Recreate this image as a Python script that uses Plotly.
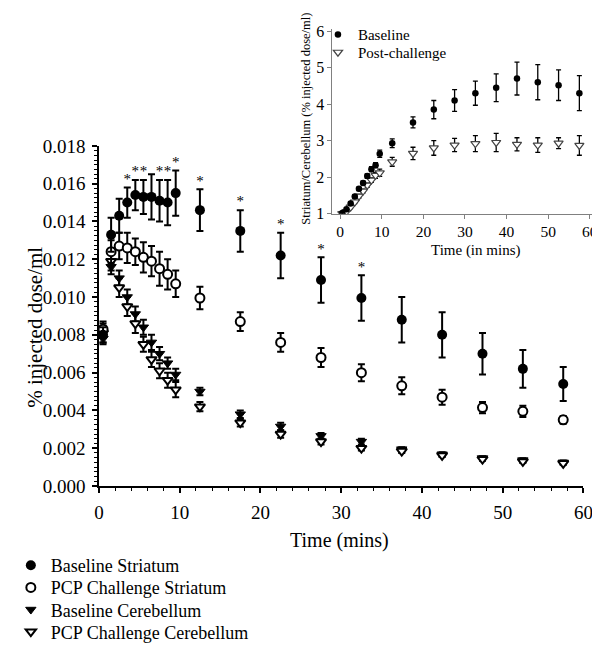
import plotly.graph_objects as go

# ---------------- data ----------------
time = [0.5, 1.5, 2.5, 3.5, 4.5, 5.5, 6.5, 7.5, 8.5, 9.5,
        12.5, 17.5, 22.5, 27.5, 32.5, 37.5, 42.5, 47.5, 52.5, 57.5]

baseline_striatum = [0.0080, 0.0133, 0.0143, 0.0150, 0.0154, 0.0153, 0.0153, 0.0151, 0.0150, 0.0155,
                     0.0146, 0.0135, 0.0122, 0.0109, 0.00995, 0.0088, 0.0080, 0.0070, 0.0062, 0.0054]
baseline_striatum_err = [0.0004, 0.0009, 0.0009, 0.0008, 0.0008, 0.0009, 0.0012, 0.0011, 0.0012, 0.0012,
                         0.0011, 0.0011, 0.0012, 0.0012, 0.0012, 0.0012, 0.0012, 0.0011, 0.0010, 0.0009]

pcp_striatum = [0.0083, 0.0124, 0.0127, 0.0126, 0.0124, 0.0121, 0.0119, 0.0115, 0.0112, 0.0107,
                0.00995, 0.0087, 0.0076, 0.0068, 0.0060, 0.0053, 0.0047, 0.00415, 0.00395, 0.0035]
pcp_striatum_err = [0.0004, 0.0006, 0.0007, 0.0008, 0.0007, 0.0008, 0.0008, 0.0009, 0.0008, 0.0007,
                    0.0006, 0.0005, 0.0005, 0.0005, 0.00045, 0.00045, 0.0004, 0.0003, 0.0003, 0.0002]

baseline_cerebellum = [0.0078, 0.0116, 0.0110, 0.0100, 0.0091, 0.0084, 0.0076, 0.0070, 0.0065, 0.0059,
                       0.0050, 0.0038, 0.00315, 0.00265, 0.00235, 0.00195, 0.00168, 0.00148, 0.00137, 0.00125]
baseline_cerebellum_err = [0.0003, 0.0004, 0.0004, 0.0004, 0.0004, 0.0004, 0.0004, 0.00035, 0.0003, 0.0003,
                           0.0002, 0.0002, 0.0002, 0.00015, 0.00015, 0.0001, 0.0001, 0.0001, 0.0001, 0.0001]

pcp_cerebellum = [0.0081, 0.0119, 0.0105, 0.0095, 0.0086, 0.0075, 0.0067, 0.0061, 0.0056, 0.0051,
                  0.0042, 0.00335, 0.00275, 0.00235, 0.0020, 0.00185, 0.00162, 0.00142, 0.0013, 0.0012]
pcp_cerebellum_err = [0.0005, 0.0005, 0.0005, 0.0005, 0.0005, 0.0004, 0.0004, 0.0004, 0.0004, 0.0004,
                      0.00025, 0.0002, 0.0002, 0.00015, 0.00012, 0.0001, 0.00008, 0.00008, 0.00008, 0.00008]

# time points marked as significant (*)
sig_times = [3.5, 4.5, 5.5, 7.5, 8.5, 9.5, 12.5, 17.5, 22.5, 27.5, 32.5]

# inset: striatum / cerebellum ratio
ratio_baseline = [1.02, 1.12, 1.28, 1.47, 1.68, 1.84, 2.03, 2.22, 2.33, 2.64,
                  2.93, 3.50, 3.85, 4.10, 4.30, 4.45, 4.70, 4.60, 4.52, 4.30]
ratio_baseline_err = [0.03, 0.04, 0.04, 0.04, 0.05, 0.05, 0.06, 0.07, 0.07, 0.10,
                      0.12, 0.15, 0.25, 0.30, 0.33, 0.38, 0.45, 0.48, 0.42, 0.48]
ratio_pcp = [1.00, 1.06, 1.18, 1.32, 1.48, 1.62, 1.78, 1.92, 2.05, 2.12,
             2.42, 2.65, 2.80, 2.88, 2.92, 2.95, 2.90, 2.88, 2.93, 2.87]
ratio_pcp_err = [0.03, 0.03, 0.04, 0.04, 0.05, 0.05, 0.06, 0.06, 0.08, 0.10,
                 0.12, 0.17, 0.20, 0.18, 0.22, 0.25, 0.18, 0.20, 0.15, 0.27]

FONT = "Liberation Serif, Times New Roman, serif"

W, H = 600, 645
ml, mr, mt, mb = 84, 3, 15, 159
pw, ph = W - ml - mr, H - mt - mb


def px_x(p):
    return (p - ml) / pw


def px_y(p):
    return (H - mb - p) / ph


def err(arr, thick=2, w=3.5):
    return dict(type="data", array=arr, visible=True, color="black", thickness=thick, width=w)


fig = go.Figure()

# main traces (cerebellum underneath); each legend entry in its own legend box
fig.add_trace(go.Scatter(x=time, y=baseline_cerebellum, mode="markers", name="Baseline Cerebellum",
                         legend="legend4",
                         marker=dict(symbol="triangle-down", size=9, color="black", line=dict(color="black", width=1)),
                         error_y=err(baseline_cerebellum_err)))
fig.add_trace(go.Scatter(x=time, y=pcp_cerebellum, mode="markers", name="PCP Challenge Cerebellum",
                         legend="legend5",
                         marker=dict(symbol="triangle-down", size=9, color="white", line=dict(color="black", width=2)),
                         error_y=err(pcp_cerebellum_err)))
fig.add_trace(go.Scatter(x=time, y=pcp_striatum, mode="markers", name="PCP Challenge Striatum",
                         legend="legend3",
                         marker=dict(symbol="circle", size=9, color="white", line=dict(color="black", width=2)),
                         error_y=err(pcp_striatum_err)))
fig.add_trace(go.Scatter(x=time, y=baseline_striatum, mode="markers", name="Baseline Striatum",
                         legend="legend",
                         marker=dict(symbol="circle", size=10, color="black"),
                         error_y=err(baseline_striatum_err)))

# significance asterisks above the baseline striatum error bars
sig_y = [baseline_striatum[time.index(t)] + baseline_striatum_err[time.index(t)] for t in sig_times]
fig.add_trace(go.Scatter(x=sig_times, y=sig_y, mode="text", text=["*"] * len(sig_times),
                         textposition="top center",
                         textfont=dict(family=FONT, size=15, color="#000000"),
                         showlegend=False, hoverinfo="skip"))

# inset traces
fig.add_trace(go.Scatter(x=time, y=ratio_pcp, mode="markers", name="Post-challenge",
                         xaxis="x2", yaxis="y2", legend="legend6",
                         marker=dict(symbol="triangle-down", size=8, color="white", line=dict(color="#444", width=1.2)),
                         error_y=err(ratio_pcp_err, thick=1.3, w=2.5)))
fig.add_trace(go.Scatter(x=time, y=ratio_baseline, mode="markers", name="Baseline",
                         xaxis="x2", yaxis="y2", legend="legend2",
                         marker=dict(symbol="circle", size=6.5, color="black"),
                         error_y=err(ratio_baseline_err, thick=1.3, w=2.5)))


def leg(xpx, ypx, size):
    return dict(x=px_x(xpx), y=px_y(ypx), xanchor="left", yanchor="middle",
                font=dict(family=FONT, size=size, color="black"), bgcolor="rgba(0,0,0,0)",
                borderwidth=0, tracegroupgap=0, itemsizing="trace")


fig.update_layout(
    width=W, height=H,
    margin=dict(l=ml, r=mr, t=mt, b=mb, pad=0),
    paper_bgcolor="white", plot_bgcolor="rgba(0,0,0,0)",
    font=dict(family=FONT, color="black", size=18),
    xaxis=dict(domain=[0, px_x(584)], range=[0, 60], dtick=10, tick0=0,
               showline=True, linecolor="black", linewidth=1.6,
               ticks="outside", ticklen=5, tickwidth=1.5, tickcolor="black",
               minor=dict(dtick=2, ticks="outside", ticklen=3, tickwidth=1.2, tickcolor="black"),
               showgrid=False, zeroline=False, ticklabelstandoff=3,
               tickfont=dict(family=FONT, size=19, color="black")),
    yaxis=dict(domain=[0, px_y(140)], range=[0, 0.018], dtick=0.002, tick0=0, tickformat=".3f",
               showline=True, linecolor="black", linewidth=1.6,
               ticks="outside", ticklen=5, tickwidth=1.5, tickcolor="black",
               minor=dict(dtick=0.00025, ticks="outside", ticklen=3, tickwidth=1.2, tickcolor="black"),
               showgrid=False, zeroline=False, ticklabelstandoff=3,
               tickfont=dict(family=FONT, size=19, color="black")),
    xaxis2=dict(domain=[px_x(325), 1], range=[-1.86, 61.5], anchor="y2", dtick=10, tick0=0,
                showline=True, linecolor="#808080", linewidth=1.3,
                ticks="outside", ticklen=4, tickcolor="#808080", tickwidth=1.2,
                showgrid=False, zeroline=False,
                tickfont=dict(family=FONT, size=15.5, color="black")),
    yaxis2=dict(domain=[px_y(209), px_y(21)], range=[1, 6.06], anchor="x2", dtick=1, tick0=1,
                showline=True, linecolor="#808080", linewidth=1.3,
                ticks="outside", ticklen=4, tickcolor="#808080", tickwidth=1.2,
                showgrid=False, zeroline=False,
                tickfont=dict(family=FONT, size=16, color="black")),
    legend=leg(-7, 567, 18),
    legend3=leg(-7, 589.5, 18),
    legend4=leg(-7, 612, 18),
    legend5=leg(-7, 634.5, 18),
    legend2=leg(310, 27, 15),
    legend6=leg(310, 45, 15),
    showlegend=True,
)

# axis titles
fig.add_annotation(text="Time (mins)", xref="paper", yref="paper",
                   x=px_x(332), y=px_y(541), showarrow=False,
                   font=dict(family=FONT, size=20, color="black"), xanchor="center", yanchor="middle")
fig.add_annotation(text="% injected dose/ml", xref="paper", yref="paper",
                   x=px_x(18), y=px_y(325), textangle=-90, showarrow=False,
                   font=dict(family=FONT, size=21, color="black"), xanchor="center", yanchor="middle")
fig.add_annotation(text="Time (in mins)", xref="paper", yref="paper",
                   x=px_x(473), y=px_y(246), showarrow=False,
                   font=dict(family=FONT, size=15, color="black"), xanchor="center", yanchor="middle")
fig.add_annotation(text="Striatum/Cerebellum (% injected dose/ml)", xref="paper", yref="paper",
                   x=px_x(298), y=px_y(112), textangle=-90, showarrow=False,
                   font=dict(family=FONT, size=12.5, color="black"), xanchor="center", yanchor="middle")

fig.write_html("out.html")
